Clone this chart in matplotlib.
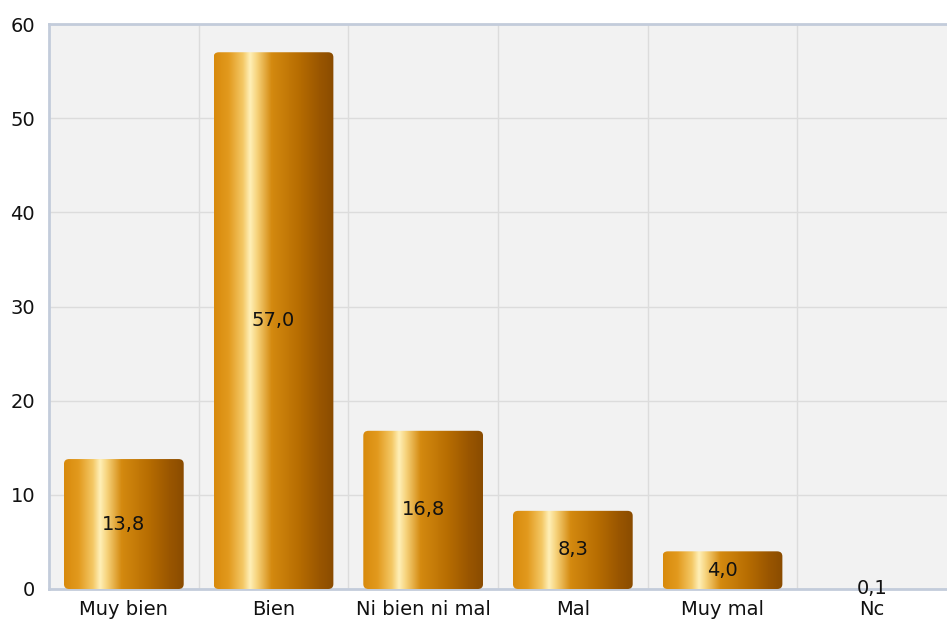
import numpy as np
import matplotlib.pyplot as plt
from matplotlib.patches import FancyBboxPatch
from matplotlib.colors import LinearSegmentedColormap

# Data
categories = ['Muy bien', 'Bien', 'Ni bien ni mal', 'Mal', 'Muy mal', 'Nc']
values = [13.8, 57.0, 16.8, 8.3, 4.0, 0.1]
yticks = [0, 10, 20, 30, 40, 50, 60]

# horizontal gold gradient for the cylinders
gold = LinearSegmentedColormap.from_list('gold', [
    (0.0, '#D88A0C'), (0.12, '#E29A1E'), (0.24, '#F4C865'),
    (0.30, '#FFF0B8'), (0.36, '#F6D27A'), (0.48, '#D48A10'),
    (0.70, '#B86E02'), (0.88, '#9A5600'), (1.0, '#8A4C00')])

fig = plt.figure(figsize=(9.47, 6.24), dpi=100)
ax = fig.add_axes([49 / 947, 1 - 589 / 624, 1 - 49 / 947, 565 / 624])
ax.set_facecolor('#F2F2F2')

x = np.arange(len(categories))
width = 0.8
grad = np.linspace(0, 1, 256).reshape(1, -1)

for xi, v in zip(x, values):
    if v >= 0.5:
        box = FancyBboxPatch((xi - width / 2, 0), width, v,
                             boxstyle='round,pad=0,rounding_size=0.035',
                             mutation_aspect=15, facecolor='none',
                             edgecolor='none', zorder=3)
        ax.add_patch(box)
        im = ax.imshow(grad, cmap=gold, aspect='auto', zorder=3,
                       extent=[xi - width / 2, xi + width / 2, 0, v])
        im.set_clip_path(box)
    ax.text(xi, v / 2, f'{v:.1f}'.replace('.', ','), ha='center', va='center',
            fontsize=14, color='#111111', zorder=5)

ax.set_xlim(-0.5, len(categories) - 0.5)
ax.set_ylim(0, 60)
ax.set_yticks(yticks)
ax.set_xticks(x)
ax.set_xticklabels(categories)
ax.set_xticks(np.arange(0.5, len(categories) - 0.5), minor=True)
ax.tick_params(axis='both', which='both', length=0, labelsize=14, colors='#111111')
ax.tick_params(axis='y', pad=10)
ax.tick_params(axis='x', pad=8)

ax.grid(True, axis='y', color='#DCDCDC', linewidth=1, zorder=0)
ax.grid(True, axis='x', which='minor', color='#DCDCDC', linewidth=1, zorder=0)
ax.grid(False, axis='x', which='major')
ax.set_axisbelow(True)

for s in ['left', 'bottom', 'top']:
    ax.spines[s].set_color('#C3CCDB')
    ax.spines[s].set_linewidth(2)
ax.spines['right'].set_visible(False)

plt.savefig('out.png', dpi=100)
